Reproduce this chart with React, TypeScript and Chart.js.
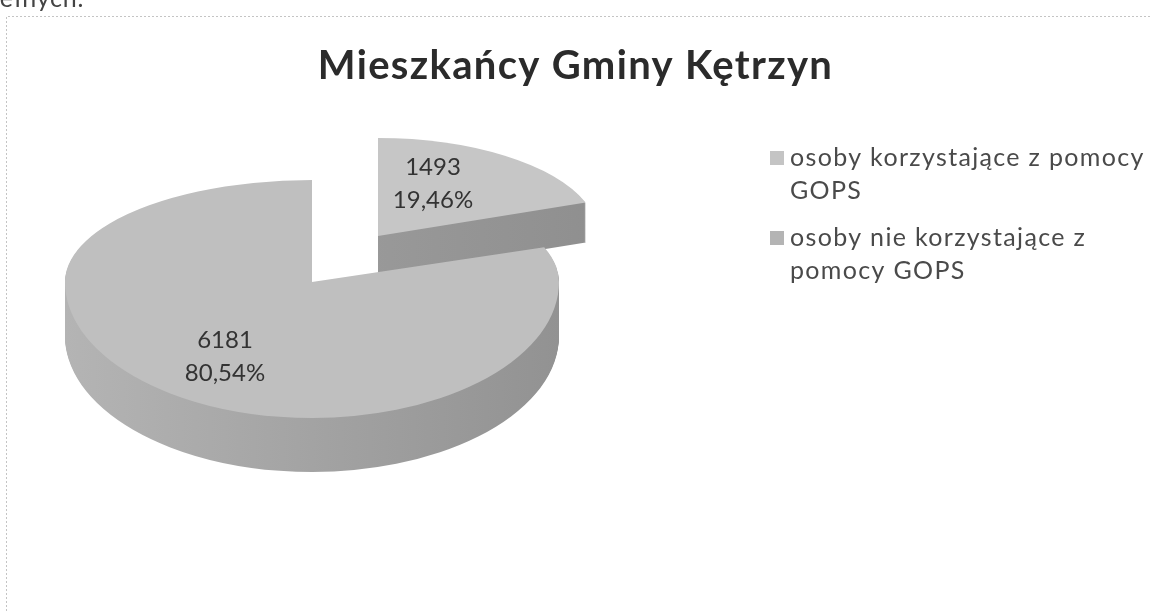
import React, { useEffect, useRef } from "react";
import { Chart, registerables } from "chart.js";

Chart.register(...registerables);

const chartTitle = "Mieszkańcy Gminy Kętrzyn";
const categories = [
  ["osoby korzystające z pomocy", "GOPS"],
  ["osoby nie korzystające z", "pomocy GOPS"],
];
const residents = [1493, 6181];
const percentLabels = ["19,46%", "80,54%"];
const topColors = ["#c6c6c6", "#bfbfbf"];
const legendColors = ["#c4c4c4", "#b4b4b4"];

const WIDTH = 1151;
const HEIGHT = 611;

const sliceGeometry = [
  { cx: 378, cy: 236, rx: 221, ryBack: 98, ryFront: 98, depth: 40, side: ["#a2a2a2", "#8f8f8f"], labelX: 433, labelY: 183 },
  { cx: 312, cy: 282, rx: 247, ryBack: 102, ryFront: 136, depth: 54, side: ["#b4b4b4", "#929292"], labelX: 225, labelY: 356 },
];

function swatch(color: string) {
  const c = document.createElement("canvas");
  c.width = 14;
  c.height = 14;
  const g = c.getContext("2d") as CanvasRenderingContext2D;
  g.fillStyle = color;
  g.fillRect(0, 0, 14, 14);
  return c;
}

const pie3d = {
  id: "pie3d",
  afterLayout(chart: any) {
    chart.legend.left = 762.5;
    chart.legend.top = 131;
  },
  beforeDraw(chart: any) {
    const { ctx } = chart;
    ctx.save();
    ctx.strokeStyle = "#c4c4c4";
    ctx.lineWidth = 1;
    ctx.setLineDash([2, 2]);
    ctx.beginPath();
    ctx.moveTo(6.5, HEIGHT);
    ctx.lineTo(6.5, 16.5);
    ctx.lineTo(WIDTH, 16.5);
    ctx.stroke();
    ctx.restore();
    ctx.letterSpacing = "1.33px";
  },
  beforeDatasetsDraw(chart: any) {
    const { ctx } = chart;
    ctx.letterSpacing = "0px";
    const arcs = chart.getDatasetMeta(0).data;

    arcs.forEach((arc: any, i: number) => {
      const g = sliceGeometry[i];
      const saved = arc.options;
      const paint = (fill: any, dy: number) => {
        arc.options = Object.create(saved, {
          backgroundColor: { value: fill },
          borderWidth: { value: 0 },
        });
        [0, 1].forEach((half) => {
          const ry = half === 0 ? g.ryBack : g.ryFront;
          const yc = g.cy + dy;
          ctx.save();
          ctx.beginPath();
          if (half === 0) ctx.rect(0, 0, WIDTH, yc + 0.5);
          else ctx.rect(0, yc, WIDTH, HEIGHT - yc);
          ctx.clip();
          ctx.translate(g.cx, yc);
          ctx.scale(g.rx / arc.outerRadius, ry / arc.outerRadius);
          ctx.translate(-arc.x, -arc.y);
          arc.draw(ctx);
          ctx.restore();
        });
      };
      const grad = ctx.createLinearGradient(arc.x - arc.outerRadius, 0, arc.x + arc.outerRadius, 0);
      grad.addColorStop(0, g.side[0]);
      grad.addColorStop(1, g.side[1]);
      for (let d = g.depth; d >= 1; d--) paint(grad, d);
      paint(topColors[i], 0);
      arc.options = saved;
    });

    ctx.save();
    ctx.fillStyle = "#333333";
    ctx.font = "24px Lato";
    ctx.textAlign = "center";
    ctx.textBaseline = "middle";
    residents.forEach((v, i) => {
      const g = sliceGeometry[i];
      ctx.fillText(String(v), g.labelX, g.labelY - 16);
      ctx.fillText(percentLabels[i], g.labelX, g.labelY + 17);
    });
    ctx.restore();
    return false;
  },
};

export default function App() {
  const ref = useRef<HTMLCanvasElement>(null);
  useEffect(() => {
    document.body.style.margin = "0";
    const chart = new Chart(ref.current as HTMLCanvasElement, {
      type: "pie",
      data: {
        labels: categories as any,
        datasets: [
          {
            data: residents,
            backgroundColor: legendColors,
            borderWidth: 0,
          },
        ],
      },
      options: {
        responsive: false,
        animation: false,
        plugins: {
          title: {
            display: true,
            text: chartTitle,
            color: "#2b2b2b",
            font: { family: "Lato", size: 40, weight: "bold" },
            padding: { top: 42, bottom: 10 },
          },
          legend: {
            position: "right",
            align: "start",
            labels: {
              color: "#4a4a4a",
              font: { family: "Lato", size: 25, lineHeight: 1.32 },
              boxWidth: 14,
              boxHeight: 14,
              padding: 14,
              usePointStyle: true,
              pointStyleWidth: 1,
              generateLabels: (c: any) =>
                (Chart as any).overrides.doughnut.plugins.legend.labels
                  .generateLabels(c)
                  .map((item: any, i: number) => ({ ...item, pointStyle: swatch(legendColors[i]) })),
            },
          },
          tooltip: { enabled: false },
        },
      },
      plugins: [pie3d],
    } as any);
    return () => chart.destroy();
  }, []);
  return (
    <div style={{ position: "relative", width: WIDTH, height: HEIGHT, overflow: "hidden", background: "#fff" }}>
      <canvas ref={ref} width={WIDTH} height={HEIGHT} style={{ display: "block" }} />
      <div
        style={{
          position: "absolute",
          left: -15,
          top: -18,
          font: "25px Lato",
          color: "#444",
          letterSpacing: "0.8px",
        }}
      >
        pełnych.
      </div>
    </div>
  );
}
